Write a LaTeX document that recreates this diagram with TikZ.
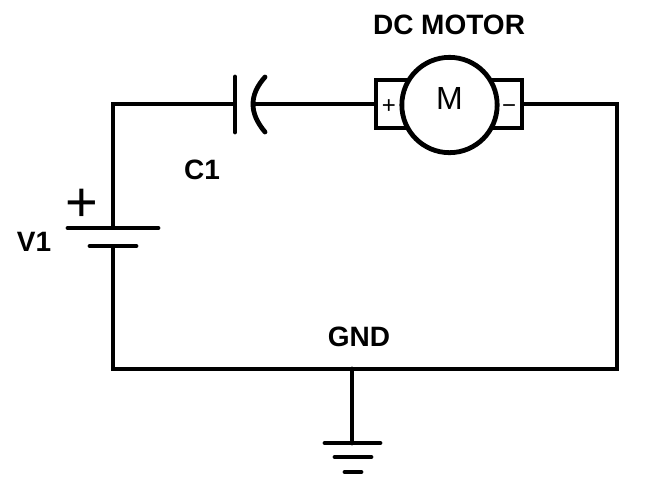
\documentclass[tikz,border=0pt]{standalone}
\usepackage{fontspec}
\setmainfont{Liberation Sans}
\tikzstyle{wire} = [line width=3.6pt, line cap=round]
\tikzstyle{label} = [inner sep=0pt, font=\fontsize{21}{21}\selectfont\bfseries]
\tikzstyle{terminal} = [inner sep=0pt, font=\fontsize{18}{18}\selectfont]
\tikzstyle{motorbox} = [rectangle, draw=black, line width=3.6pt, fill=white, minimum width=109.5pt, minimum height=36pt]
\tikzstyle{motorbody} = [circle, draw=black, line width=3.6pt, fill=white, inner sep=0pt, minimum size=71.5pt]

\begin{document}
\begin{tikzpicture}[x=0.75pt, y=-0.75pt]
\useasboundingbox (0,0) rectangle (652,501);
% motor
\node (box) [motorbox] at (449,104) {};
\node (motor) [motorbody] at (449.5,105) {};
\node (mletter) [inner sep=0pt, font=\fontsize{24}{24}\selectfont] at (449.5,98) {M};
\node (plus) [terminal] at (389,107) {+};
\node (minus) [terminal] at (509,109) {−};
\node (title) [label] at (449,25) {DC MOTOR};

% corners and plates
\coordinate (capL) at (235,104);
\coordinate (capR) at (254,104);
\coordinate (batP) at (113,228);
\coordinate (batN) at (113,246);
\coordinate (topL) at (113,104);
\coordinate (topR) at (617,104);
\coordinate (botL) at (113,369);
\coordinate (botR) at (617,369);
\coordinate (gndT) at (352,369);
\coordinate (gndB) at (352,443);

% wires
\draw [wire, line cap=butt] (capL) -- (topL) -- (batP);
\draw [wire] (capR) -- (box.west);
\draw [wire, line cap=butt] (box.east) -- (topR) -- (botR) -- (botL) -- (batN);
\draw [wire] (gndT) -- (gndB);

% capacitor
\draw [wire] (capL) ++(0,-27) -- ++(0,55);
\draw [wire] (265,77) .. controls (249,95) and (249,113) .. (265,132);
% battery
\draw [wire] (batP) ++(-45,0) -- ++(90,0);
\draw [wire] (batN) ++(-23,0) -- ++(46,0);
\node (batplus) [inner sep=0pt, font=\fontsize{42}{42}\selectfont] at (82,205) {+};
% ground
\draw [wire] (gndB) ++(-27,0) -- ++(55,0);
\draw [wire] (gndB) ++(-17,14) -- ++(36,0);
\draw [wire] (gndB) ++(-7,29) -- ++(16,0);

\node (c1) [label] at (202,170) {C1};
\node (v1) [label] at (34,242) {V1};
\node (gnd) [label] at (359,337) {GND};
\end{tikzpicture}
\end{document}
